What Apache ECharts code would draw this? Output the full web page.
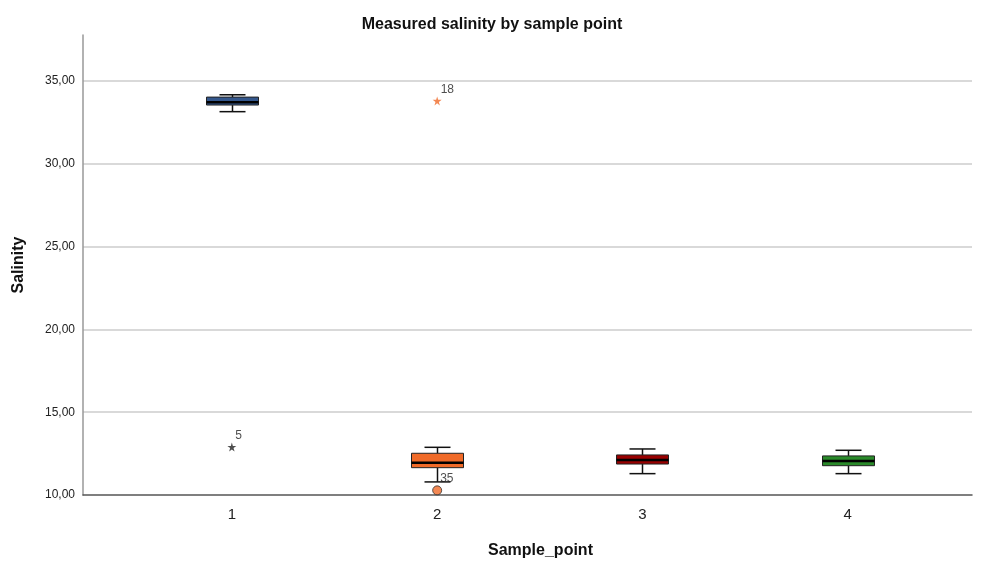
<!DOCTYPE html>
<html>
<head>
<meta charset="utf-8">
<script src="https://cdn.jsdelivr.net/npm/echarts@6/dist/echarts.min.js"></script>
<style>html,body{margin:0;padding:0;background:#fff}#c{width:984px;height:561px}</style>
</head>
<body>
<div id="c"></div>
<script>
// ---- data ----
var categories = [1, 2, 3, 4];
var lowerWhisker = [33.15, 10.79, 11.29, 11.29];
var q1 = [33.55, 11.65, 11.87, 11.77];
var median = [33.72, 11.95, 12.11, 12.05];
var q3 = [34.03, 12.52, 12.42, 12.36];
var upperWhisker = [34.17, 12.88, 12.78, 12.70];
var boxColors = ['#34578c', '#f06a28', '#990000', '#2a8a2a'];

var extremeCats = [1, 2];
var extremeValues = [12.9, 33.8];
var extremeLabels = ['5', '18'];
var extremeColors = ['#222222', '#f06a28'];

var outlierCats = [2];
var outlierValues = [10.28];
var outlierLabels = ['35'];
var outlierColors = ['#f06a28'];

var yTicks = [10, 15, 20, 25, 30, 35];

// ---- chart ----
var starPath = 'path://M50,0 L61,35 L98,35 L68,57 L79,91 L50,70 L21,91 L32,57 L2,35 L39,35 Z';
var boxData = categories.map(function (c, i) {
  return [c, lowerWhisker[i], q1[i], median[i], q3[i], upperWhisker[i], i];
});
var extremeData = extremeCats.map(function (c, i) {
  return { value: [c, extremeValues[i]], name: extremeLabels[i], itemStyle: { color: extremeColors[i] } };
});
var outlierData = outlierCats.map(function (c, i) {
  return { value: [c, outlierValues[i]], name: outlierLabels[i], itemStyle: { color: outlierColors[i] } };
});

var BOX_W = 52;
function renderBox(params, api) {
  var x = api.value(0);
  var pLow = api.coord([x, api.value(1)]);
  var pQ1 = api.coord([x, api.value(2)]);
  var pMed = api.coord([x, api.value(3)]);
  var pQ3 = api.coord([x, api.value(4)]);
  var pHigh = api.coord([x, api.value(5)]);
  var idx = api.value(6);
  var cx = Math.round(pLow[0]) + 0.5;
  var hw = BOX_W / 2, cw = BOX_W / 4;
  var line = { stroke: '#111', lineWidth: 1.5 };
  return {
    type: 'group',
    children: [
      { type: 'line', shape: { x1: cx, y1: pLow[1], x2: cx, y2: pQ1[1] }, style: line },
      { type: 'line', shape: { x1: cx, y1: pQ3[1], x2: cx, y2: pHigh[1] }, style: line },
      { type: 'line', shape: { x1: cx - cw, y1: pLow[1], x2: cx + cw, y2: pLow[1] }, style: line },
      { type: 'line', shape: { x1: cx - cw, y1: pHigh[1], x2: cx + cw, y2: pHigh[1] }, style: line },
      { type: 'rect', shape: { x: cx - hw, y: pQ3[1], width: BOX_W, height: pQ1[1] - pQ3[1] },
        style: { fill: boxColors[idx], stroke: '#222', lineWidth: 1 } },
      { type: 'line', shape: { x1: cx - hw, y1: pMed[1], x2: cx + hw, y2: pMed[1] },
        style: { stroke: '#000', lineWidth: 2.5 } }
    ]
  };
}

var chart = echarts.init(document.getElementById('c'), null, { renderer: 'canvas' });
chart.setOption({
  animation: false,
  backgroundColor: '#fff',
  textStyle: { fontFamily: 'Liberation Sans, Arial, sans-serif' },
  title: {
    text: 'Measured salinity by sample point',
    left: 'center', top: 12,
    textStyle: { fontSize: 16, fontWeight: 'bold', color: '#111', fontFamily: 'Liberation Sans, Arial, sans-serif' }
  },
  grid: { left: 83, top: 35, width: 889, height: 460, containLabel: false, outerBoundsMode: 'none' },
  xAxis: {
    type: 'value',
    min: 0.275, max: 4.605,
    name: 'Sample_point',
    nameLocation: 'middle',
    nameGap: 48,
    nameTextStyle: { fontSize: 16, fontWeight: 'bold', color: '#111', padding: [0, 0, 0, 26] },
    axisLine: { show: true, lineStyle: { color: '#555', width: 1.5 } },
    axisTick: { show: false },
    splitLine: { show: false },
    axisLabel: { customValues: categories, fontSize: 15, color: '#222', margin: 12,
      formatter: function (v) { return String(v); } }
  },
  yAxis: {
    type: 'value',
    min: 10, max: 37.78, interval: 5,
    name: 'Salinity',
    nameLocation: 'middle',
    nameGap: 56,
    nameTextStyle: { fontSize: 16, fontWeight: 'bold', color: '#111' },
    axisLine: { show: true, lineStyle: { color: '#999', width: 1.5 } },
    axisTick: { show: false },
    axisLabel: { customValues: yTicks, fontSize: 12, color: '#222', margin: 8,
      formatter: function (v) { return v.toFixed(2).replace('.', ','); } },
    splitLine: { show: true, showMinLine: false, showMaxLine: false, lineStyle: { color: '#cccccc', width: 1.5 } }
  },
  series: [
    { type: 'custom', renderItem: renderBox, data: boxData, encode: { x: 0, y: [1, 5] }, z: 3 },
    {
      type: 'scatter', data: extremeData, symbol: starPath, symbolSize: 9, z: 4,
      label: { show: true, formatter: '{b}', position: [8, -13], fontSize: 12, color: '#222' }
    },
    {
      type: 'scatter', data: outlierData, symbol: 'circle', symbolSize: 9, z: 4,
      itemStyle: { borderColor: '#333', borderWidth: 1 },
      label: { show: true, formatter: '{b}', position: [8, -13], fontSize: 12, color: '#222' }
    }
  ]
});
</script>
</body>
</html>
